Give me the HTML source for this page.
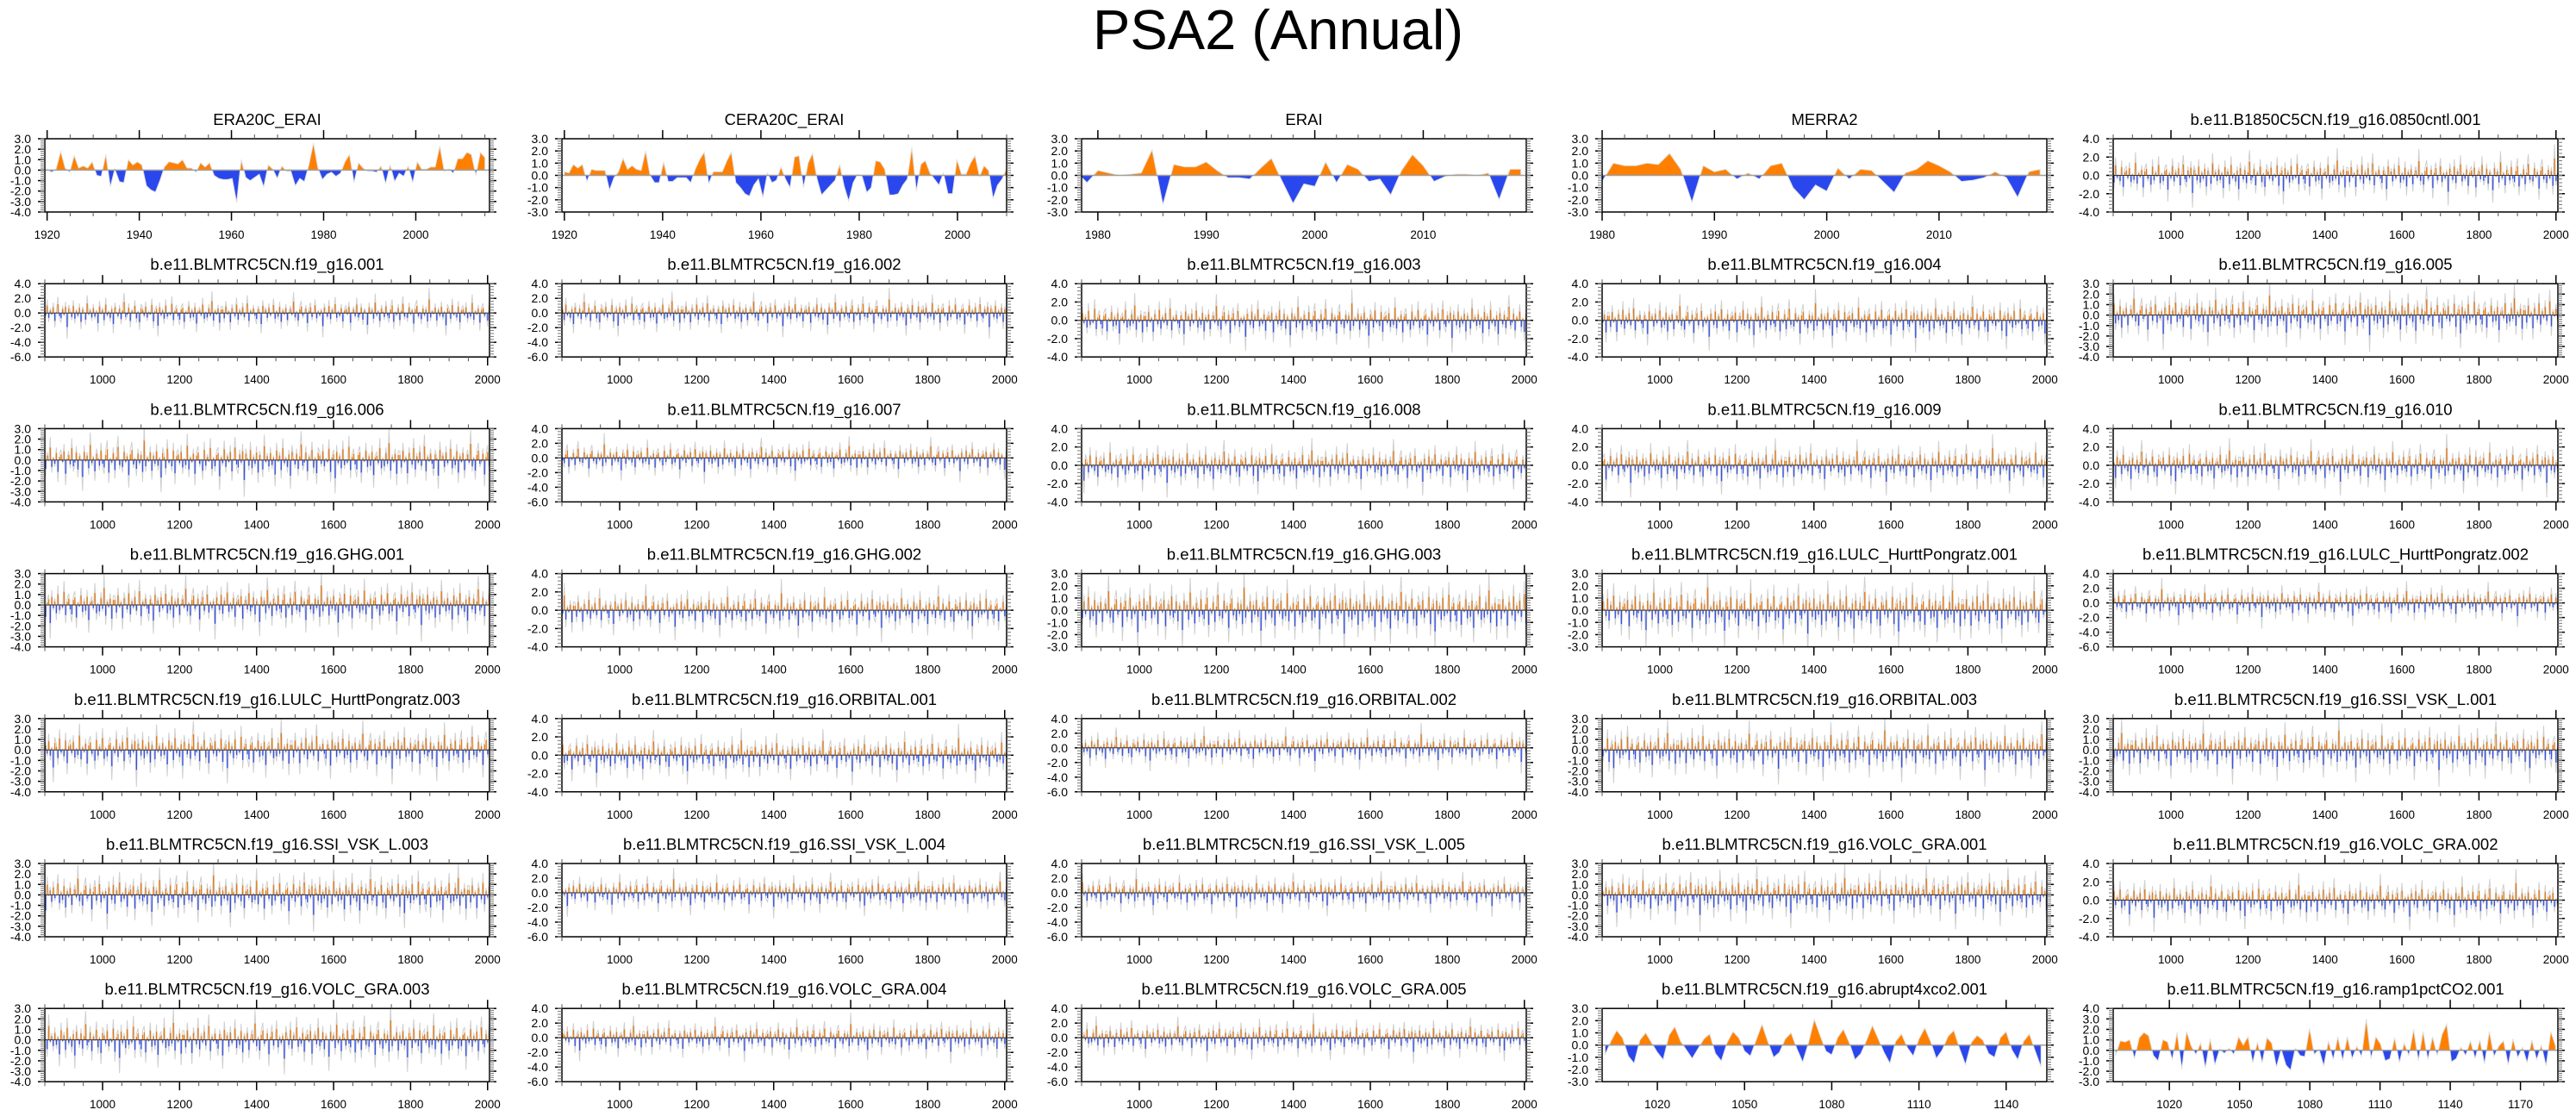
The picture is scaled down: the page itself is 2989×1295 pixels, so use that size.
<!DOCTYPE html>
<html><head><meta charset="utf-8"><style>
html,body{margin:0;padding:0;background:#fff}
svg{display:block}
text{font-family:"Liberation Sans",Arial,sans-serif;fill:#000}
</style></head><body>
<svg id="fig" width="2989" height="1295" viewBox="0 0 2989 1295" xmlns="http://www.w3.org/2000/svg">
<text x="1483" y="57" font-size="65" text-anchor="middle">PSA2 (Annual)</text>
</svg>
<script>
// ---------- data ----------
const era20c = [0.1,-0.2,0.1,1.8,0.2,-0.2,1.4,0.2,0.4,0.2,0.8,-0.5,-0.6,1.5,-1.6,0.1,-1.1,-1.2,1.0,0.5,0.8,0.5,-1.5,-1.9,-2.1,-1.0,0.3,0.8,0.7,0.6,1.0,0.2,0.2,-0.2,0.7,0.3,0.7,-0.5,-0.8,-0.9,-0.9,-0.8,-3.1,1.0,-0.7,-1.0,-0.7,-0.4,-1.6,0.5,0.1,-0.8,0.4,-0.1,-0.1,-1.5,-0.8,-1.1,0.5,2.6,0.2,-0.9,-0.4,-0.2,-0.6,-0.3,0.8,1.5,-1.2,0.7,0.2,-0.1,-0.1,-0.2,0.4,-1.3,0.5,-1.1,-0.3,-0.6,0.4,-1.2,0.8,0.1,0.1,0.3,0.3,2.3,-0.1,0.1,-0.3,1.1,1.1,1.7,1.5,-0.5,1.7,1.2];
const cera20c = [0.3,0.2,0.9,0.6,0.9,-0.5,0.5,0.4,0.4,0.4,-1.2,-0.2,0.3,1.4,0.5,0.8,0.5,0.4,2.0,0.0,-0.6,-0.6,1.1,-0.5,-0.5,-0.2,-0.2,-0.2,-0.6,0.5,1.3,1.9,-0.7,0.3,0.3,0.3,1.2,1.9,-0.6,-1.0,-1.5,-1.7,-0.8,-0.3,-1.8,0.2,-0.6,-0.4,0.7,-0.3,-1.0,1.5,1.6,-1.0,1.0,1.8,-0.3,-1.6,-1.2,-0.8,-0.4,0.9,-0.9,-2.1,-0.6,0.1,-0.1,-1.4,-1.0,1.2,1.1,0.5,-1.6,-1.6,-1.5,-0.8,-0.3,2.3,-1.3,0.9,1.2,0.2,-0.3,-0.8,0.2,-1.5,-1.5,1.3,0.1,0.1,1.0,1.6,-0.1,0.8,0.4,-1.9,-0.8,-0.3,0.6];
const erai = [0.3,-0.6,0.4,0.2,0.0,0.1,0.2,2.1,-2.4,0.9,0.7,0.7,1.1,0.4,-0.2,-0.2,-0.3,0.6,1.4,-0.5,-2.3,-0.7,-0.9,1.1,-0.6,0.9,0.5,-0.5,-0.3,-1.6,0.4,1.7,0.8,-0.5,-0.1,0.1,0.1,0.0,0.2,-2.0,0.5,0.5];
const merra2 = [-0.5,1.0,0.8,0.8,1.0,0.9,1.8,0.5,-2.2,0.8,0.3,0.5,-0.3,0.2,-0.3,0.8,1.0,-1.0,-2.0,-0.8,-1.3,0.6,-0.3,0.5,0.4,-0.5,-1.4,0.2,0.5,1.2,0.8,0.3,-0.5,-0.4,-0.2,0.3,-0.2,-1.8,0.3,0.5];
const abrupt = [-0.8,0.3,1.2,0.6,-0.9,-1.5,0.4,1.0,0.2,-0.6,-1.2,0.8,1.5,0.3,-0.4,-1.1,-0.3,0.5,0.9,-0.7,-1.3,0.2,1.1,0.6,-0.5,-0.9,0.4,1.7,0.3,-1.0,-0.6,0.5,1.0,-0.3,-1.4,0.2,2.1,0.8,-0.5,-0.8,0.6,1.3,0.2,-1.2,-0.7,0.4,1.6,0.5,-0.6,-1.5,0.3,0.9,-0.2,-0.9,0.5,1.4,0.3,-1.1,-0.4,0.7,1.2,-0.3,-1.6,0.2,0.8,0.4,-0.7,-1.0,0.6,1.1,-0.4,-1.2,0.3,0.9,-0.5,-1.8];
const ramp = [-0.5,0.9,0.8,1.0,-0.8,1.2,1.7,1.4,-0.5,-1.0,1.0,0.8,-0.9,1.7,-1.8,1.8,0.4,-0.4,0.7,-1.7,1.1,-1.4,0.1,-0.3,0.2,-0.4,1.3,0.5,1.3,-1.2,0.8,-1.2,1.2,0.7,-1.6,0.1,-1.4,-1.9,0.2,-0.5,-0.6,2.1,-0.4,0.1,-1.5,0.9,-0.9,1.3,-1.0,1.3,-0.8,0.4,-0.6,3.0,-0.8,1.3,0.6,-1.0,-0.8,1.2,-1.2,0.7,-0.5,2.0,-1.0,1.8,-0.9,1.3,-0.5,1.5,2.5,-1.1,-0.8,0.3,-0.5,0.9,-0.8,1.0,-1.3,1.8,-0.6,0.4,0.9,-1.4,1.1,-0.7,0.3,-1.2,1.0,-0.9,0.5,-1.5,1.8,0.4];
const modelNoise = [0.8,-1.2,1.5,-0.3,0.4,-2.1,1.1,0.2,-0.7,1.9,-1.5,0.6,-0.4,1.3,-0.9,0.1,2.2,-1.8,0.5,-0.2,
1.0,-0.6,-1.4,0.9,0.3,-2.5,1.6,-0.1,0.7,-1.1,1.2,-0.5,0.0,1.8,-1.3,0.4,-0.8,1.4,-2.0,0.6,
-0.3,1.1,-1.6,0.2,0.9,-0.4,2.6,-1.0,0.3,-1.7,0.8,1.5,-0.6,-0.2,1.0,-2.3,0.5,1.3,-0.9,0.1,
1.7,-1.2,0.4,-0.5,0.6,-3.0,1.2,0.2,-0.8,1.6,-1.4,0.7,-0.1,2.0,-1.1,0.3,-0.6,1.1,-1.9,0.5,
0.9,-0.3,1.4,-2.2,0.2,0.8,-0.7,1.9,-1.0,-0.4,1.2,-1.5,0.6,0.1,-2.7,1.3,-0.2,0.7,-1.3,2.4,
-0.5,0.4,-1.8,1.0,0.3,-0.9,1.5,-0.6,-1.2,0.8,1.7,-2.0,0.2,-0.4,1.1,-1.6,0.5,2.1,-0.8,0.0,
-1.1,1.3,-0.3,0.6,-2.4,0.9,1.6,-0.7,0.2,-1.4,1.0,-0.5,0.8,-1.9,3.1,-1.0,0.4,-0.2,1.2,-1.7,
0.7,-0.6,1.4,-0.9,0.3,-2.8,1.1,0.5,-1.3,1.8,-0.4,0.1,-1.0,1.5,-2.1,0.6,0.9,-0.5,1.3,-1.2,
0.2,-0.8,2.3,-1.5,0.4,-0.3,1.0,-2.2,0.7,1.2,-0.6,0.1,-1.7,1.6,-0.9,0.5,-0.2,1.9,-1.4,0.3,
-1.0,0.8,1.1,-2.6,0.4,-0.5,1.7,-1.1,0.6,-0.3,1.3,-1.8,0.2,2.0,-0.7,-1.2,0.9,-0.4,1.4,-3.2,
1.0,0.3,-0.9,1.6,-1.3,0.5,-0.6,1.2,-2.0,0.8,0.1,-1.5,2.2,-0.3,0.6,-1.0,1.1,-0.8,0.4,-2.3,
1.5,-0.2,0.7,-1.6,1.9,-0.5,0.3,-1.1,0.9,-2.5,1.3,0.2,-0.7,1.0,-1.4,0.6,2.5,-0.9,-0.4,1.2,
-1.8,0.5,-0.1,1.6,-1.2,0.3,-2.1,1.1,0.7,-0.6,1.4,-1.0,0.2,-0.3,1.8,-1.9,0.4,0.9,-2.9,1.3,
-0.5,0.6,-1.3,1.7,-0.8,0.1,-0.4,2.1,-1.6,0.5,1.0,-0.7,-1.5,0.8,1.2,-2.0,0.3,-0.2,1.5,-1.1,
0.6,-0.9,1.3,-2.4,0.4,0.7,-0.5,1.9,-1.3,0.2,-1.0,1.1,-0.6,2.7,-1.7,0.5,-0.3,1.0,-2.2,0.8];

const panelTitles = ["ERA20C_ERAI","CERA20C_ERAI","ERAI","MERRA2","b.e11.B1850C5CN.f19_g16.0850cntl.001",
"b.e11.BLMTRC5CN.f19_g16.001","b.e11.BLMTRC5CN.f19_g16.002","b.e11.BLMTRC5CN.f19_g16.003","b.e11.BLMTRC5CN.f19_g16.004","b.e11.BLMTRC5CN.f19_g16.005",
"b.e11.BLMTRC5CN.f19_g16.006","b.e11.BLMTRC5CN.f19_g16.007","b.e11.BLMTRC5CN.f19_g16.008","b.e11.BLMTRC5CN.f19_g16.009","b.e11.BLMTRC5CN.f19_g16.010",
"b.e11.BLMTRC5CN.f19_g16.GHG.001","b.e11.BLMTRC5CN.f19_g16.GHG.002","b.e11.BLMTRC5CN.f19_g16.GHG.003","b.e11.BLMTRC5CN.f19_g16.LULC_HurttPongratz.001","b.e11.BLMTRC5CN.f19_g16.LULC_HurttPongratz.002",
"b.e11.BLMTRC5CN.f19_g16.LULC_HurttPongratz.003","b.e11.BLMTRC5CN.f19_g16.ORBITAL.001","b.e11.BLMTRC5CN.f19_g16.ORBITAL.002","b.e11.BLMTRC5CN.f19_g16.ORBITAL.003","b.e11.BLMTRC5CN.f19_g16.SSI_VSK_L.001",
"b.e11.BLMTRC5CN.f19_g16.SSI_VSK_L.003","b.e11.BLMTRC5CN.f19_g16.SSI_VSK_L.004","b.e11.BLMTRC5CN.f19_g16.SSI_VSK_L.005","b.e11.BLMTRC5CN.f19_g16.VOLC_GRA.001","b.e11.BLMTRC5CN.f19_g16.VOLC_GRA.002",
"b.e11.BLMTRC5CN.f19_g16.VOLC_GRA.003","b.e11.BLMTRC5CN.f19_g16.VOLC_GRA.004","b.e11.BLMTRC5CN.f19_g16.VOLC_GRA.005","b.e11.BLMTRC5CN.f19_g16.abrupt4xco2.001","b.e11.BLMTRC5CN.f19_g16.ramp1pctCO2.001"];
const yTypes = ["A","B","B","B","C", "D","D","C","C","A", "A","D","C","C","C", "A","C","B","B","D", "A","C","D","A","A", "A","D","D","A","C", "A","D","D","B","E"];
const yRanges = {A:[-4,3,1],B:[-3,3,1],C:[-4,4,2],D:[-6,4,2],E:[-3,4,1]};
const obsSeries = {0:era20c,1:cera20c,2:erai,3:merra2,33:abrupt,34:ramp};
const obsX = {0:[1919.5,2016,1920,2015],1:[1919.5,2010,1920,2010],2:[1978.5,2019.5,1978,2019],3:[1980,2019.6,1980,2019],33:[1001,1154,1002,1152],34:[996,1186,997,1185]};
const obsTicks = {0:[1920,20,5],1:[1920,20,5],2:[1980,10,2],3:[1980,10,2],33:[1020,30,10],34:[1020,30,10]};

// ---------- layout ----------
const NS="http://www.w3.org/2000/svg";
const svg=document.getElementById('fig');
const colLeft=[52,652,1255,1859,2452], W=516, H=85;
const ORANGE="#ff8000", BLUE="#2a47ee", GRAY="#cfcfcf";
function el(tag,attrs,parent){const e=document.createElementNS(NS,tag);for(const k in attrs)e.setAttribute(k,attrs[k]);(parent||svg).appendChild(e);return e;}
function fmt(v){return v.toFixed(1);}

panelTitles.forEach((title,i)=>{
  const r=Math.floor(i/5), c=i%5;
  const x0=colLeft[c], y0=161+r*168.2;
  const g=el('g',{});
  
  
  const [ymin,ymax,ystep]=yRanges[yTypes[i]];
  const isObs = obsSeries[i]!==undefined;
  const [xmin,xmax,d0,d1] = isObs?obsX[i]:[850,2005,852,2004];
  const sx=v=>x0+(v-xmin)/(xmax-xmin)*W;
  const sy=v=>y0+(ymax-v)/(ymax-ymin)*H;
  const clipId='clip'+i;
  const cp=el('clipPath',{id:clipId},g); el('rect',{x:x0,y:y0,width:W,height:H},cp);
  const data=el('g',{'clip-path':'url(#'+clipId+')'},g);
  
  
  const yz=sy(0);
  if(isObs){
    const vals=obsSeries[i];
    const n=vals.length;
    const xs=vals.map((v,k)=>sx(d0+k*(d1-d0)/(n-1)));
    let d='M'+xs[0]+','+yz;
    vals.forEach((v,k)=>{d+=' L'+xs[k].toFixed(1)+','+sy(v).toFixed(1);});
    d+=' L'+xs[n-1]+','+yz+' Z';
    const ca=el('clipPath',{id:clipId+'a'},g); el('rect',{x:x0,y:y0,width:W,height:yz-y0},ca);
    const cb=el('clipPath',{id:clipId+'b'},g); el('rect',{x:x0,y:yz,width:W,height:y0+H-yz},cb);
    const pa=el('path',{d:d,fill:ORANGE,stroke:'#e0e0e0','stroke-width':1,'clip-path':'url(#'+clipId+'a)'},data);
    
    
    const pb=el('path',{d:d,fill:BLUE,stroke:'#e0e0e0','stroke-width':1,'clip-path':'url(#'+clipId+'b)'},data);
    
    
    el('line',{x1:x0,x2:x0+W,y1:yz,y2:yz,stroke:'#a0a0a0','stroke-width':1.5},data);
  } else {
    const off=(i*37)%modelNoise.length;
    const n=289;
    const vals=[];
    for(let k=0;k<n;k++) vals.push(modelNoise[(off+k)%modelNoise.length]);
    let pts='';
    vals.forEach((v,k)=>{pts+=sx(d0+k*(d1-d0)/(n-1)).toFixed(1)+','+sy(v*1.1).toFixed(1)+' ';});
    const pl=el('polyline',{points:pts,fill:'none',stroke:GRAY,'stroke-width':1},data);
    
    
    vals.forEach((v,k)=>{
      const xx=sx(d0+k*(d1-d0)/(n-1));
      const yy=sy(v*0.6);
      const b=el('rect',{x:(xx-0.6).toFixed(1),y:Math.min(yy,yz).toFixed(1),width:1.3,height:Math.abs(yy-yz).toFixed(1),fill:v>=0?'#e67a14':'#3450e6'},data);
      
      
    });
    el('line',{x1:x0,x2:x0+W,y1:yz,y2:yz,stroke:'#333','stroke-width':1},data);
  }
  el('rect',{x:x0,y:y0,width:W,height:H,fill:'none',stroke:'#000','stroke-width':1.5},g);
  for(let v=ymin; v<=ymax+1e-9; v+=ystep){
    const yy=sy(v);
    el('line',{x1:x0-8,x2:x0,y1:yy,y2:yy,stroke:'#000','stroke-width':1.5},g);
    el('line',{x1:x0+W,x2:x0+W+8,y1:yy,y2:yy,stroke:'#000','stroke-width':1.5},g);
    const t=el('text',{x:x0-16,y:yy+5,'font-size':14,'text-anchor':'end'},g);
    t.textContent=fmt(v);
    
    
  }
  const mstep=ystep/5;
  for(let v=ymin; v<=ymax+1e-9; v+=mstep){
    const yy=sy(v);
    el('line',{x1:x0-5,x2:x0,y1:yy,y2:yy,stroke:'#777','stroke-width':1},g);
    el('line',{x1:x0+W,x2:x0+W+5,y1:yy,y2:yy,stroke:'#777','stroke-width':1},g);
  }
  let mj0,mjs,mns;
  if(isObs){[mj0,mjs,mns]=obsTicks[i];} else {mj0=1000;mjs=200;mns=50;}
  let firstMinor=Math.ceil(xmin/mns)*mns;
  for(let v=firstMinor; v<=xmax; v+=mns){
    const xx=sx(v);
    el('line',{x1:xx,x2:xx,y1:y0-5,y2:y0,stroke:'#555','stroke-width':1},g);
    el('line',{x1:xx,x2:xx,y1:y0+H,y2:y0+H+5,stroke:'#555','stroke-width':1},g);
  }
  let firstMajor=mj0; while(firstMajor-mjs>=xmin) firstMajor-=mjs;
  for(let v=firstMajor; v<=xmax; v+=mjs){
    const xx=sx(v);
    el('line',{x1:xx,x2:xx,y1:y0-10,y2:y0,stroke:'#000','stroke-width':1.5},g);
    el('line',{x1:xx,x2:xx,y1:y0+H,y2:y0+H+10,stroke:'#000','stroke-width':1.5},g);
    if(v>=mj0){
      const t=el('text',{x:xx,y:y0+H+31,'font-size':13.5,'text-anchor':'middle'},g);
      t.textContent=v;
      
      
    }
  }
  const tt=el('text',{x:x0+W/2,y:y0-16,'font-size':18.5,'text-anchor':'middle'},g);
  tt.textContent=title;
  
  
});
</script>
</body></html>
